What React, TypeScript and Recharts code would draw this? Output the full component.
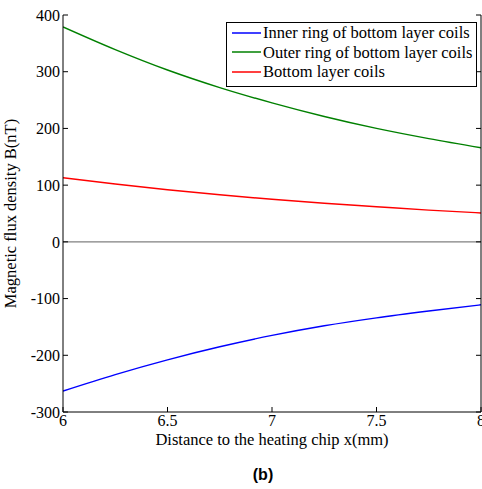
import React from 'react';
import { LineChart, Line, XAxis, YAxis, ReferenceLine, Label } from 'recharts';

const xs = [6, 6.25, 6.5, 6.75, 7, 7.25, 7.5, 7.75, 8];
const innerRing = [-263, -234, -208, -185, -165, -148, -134, -122, -111];
const outerRing = [379, 339, 303, 272, 245, 221, 200, 182, 166];
const bottomLayer = [113, 102, 92, 83, 75, 68, 62, 56, 51];

const xTicks = [6, 6.5, 7, 7.5, 8];
const yTicks = [-300, -200, -100, 0, 100, 200, 300, 400];

const series = [
    { key: 'inner', name: 'Inner ring of bottom layer coils', color: '#0000ff' },
    { key: 'outer', name: 'Outer ring of bottom layer coils', color: '#008000' },
    { key: 'bottom', name: 'Bottom layer coils', color: '#ff0000' },
];

const data = xs.map((x, i) => ({
    x,
    inner: innerRing[i],
    outer: outerRing[i],
    bottom: bottomLayer[i],
}));

const serif = '"Liberation Serif", "Times New Roman", serif';
const tickStyle = { fill: '#000', fontSize: 16, fontFamily: serif };

function LegendBox() {
    return (
        <div style={{
            position: 'absolute', left: 226, top: 22, width: 251, height: 65, boxSizing: 'border-box',
            border: '1.5px solid #000', background: '#fff', padding: '0px 0 0 5px',
            fontFamily: serif, fontSize: 16.5, color: '#000', lineHeight: '19.5px',
        }}>
            {series.map(s => (
                <div key={s.key} style={{ display: 'flex', alignItems: 'center', whiteSpace: 'nowrap' }}>
                    <svg width={30} height={10} style={{ marginRight: 1 }}>
                        <line x1={0} y1={5} x2={29} y2={5} stroke={s.color} strokeWidth={1.5} />
                    </svg>
                    {s.name}
                </div>
            ))}
        </div>
    );
}

export default function App() {
    return (
        <div style={{ position: 'absolute', left: 0, top: 0, width: 482, height: 489, background: '#fff' }}>
            <LineChart width={482} height={489} data={data} margin={{ top: 15, right: 0, left: 0, bottom: 0 }}>
                <XAxis
                    dataKey="x" type="number" domain={[6, 8]} ticks={xTicks} allowDataOverflow
                    height={77} stroke="#000" tickSize={-5} tickMargin={8} tick={tickStyle} interval={0}
                >
                    <Label value="Distance to the heating chip x(mm)" position="insideTop" offset={21}
                        style={{ fill: '#000', fontSize: 16.5, fontFamily: serif }} />
                </XAxis>
                <XAxis
                    xAxisId="top" orientation="top" dataKey="x" type="number" domain={[6, 8]} ticks={xTicks}
                    allowDataOverflow height={0} stroke="#000" tickSize={-5} tickFormatter={() => ''}
                />
                <YAxis
                    type="number" domain={[-300, 400]} ticks={yTicks} allowDataOverflow width={63}
                    stroke="#000" tickSize={-5} tickMargin={8} tick={tickStyle} interval={0}
                >
                    <Label value="Magnetic flux density B(nT)" angle={-90} position="insideLeft" offset={10}
                        style={{ fill: '#000', fontSize: 16.5, fontFamily: serif, textAnchor: 'middle' }} />
                </YAxis>
                <YAxis
                    yAxisId="right" orientation="right" type="number" domain={[-300, 400]} ticks={yTicks}
                    allowDataOverflow width={1} stroke="#000" tickSize={-5} tickFormatter={() => ''}
                />
                <ReferenceLine y={0} stroke="#808080" strokeWidth={1.2} />
                {series.map(s => (
                    <Line
                        key={s.key} dataKey={s.key} name={s.name} stroke={s.color} strokeWidth={1.4}
                        type="monotone" dot={false} activeDot={false} isAnimationActive={false}
                    />
                ))}
            </LineChart>
            <LegendBox />
            <div style={{
                position: 'absolute', left: 0, width: 526, top: 466, textAlign: 'center',
                fontFamily: '"Liberation Sans", Arial, sans-serif', fontWeight: 'bold', fontSize: 16, color: '#000',
            }}>(b)</div>
        </div>
    );
}
